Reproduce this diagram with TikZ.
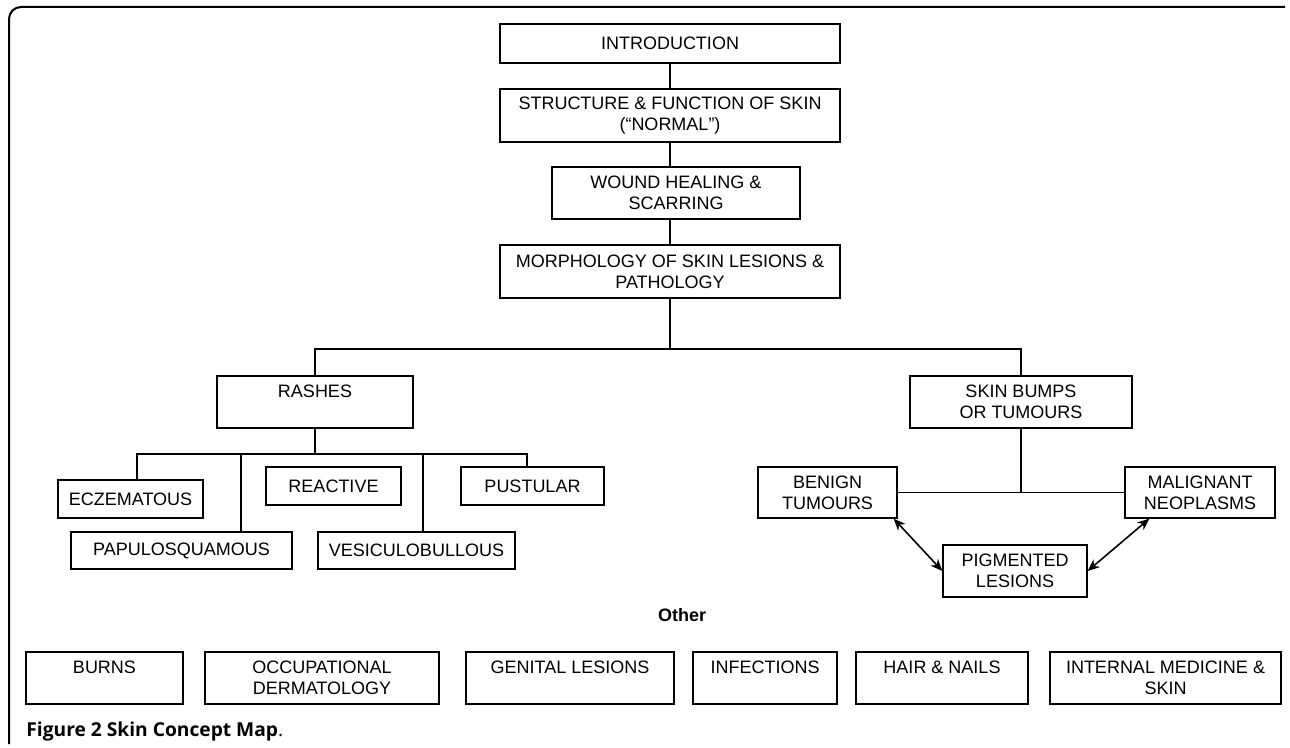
\documentclass[tikz,border=0pt]{standalone}
\usepackage{fontspec}
\setmainfont{Liberation Sans}
\newfontfamily\capfont{Open Sans}
\usetikzlibrary{arrows.meta}
\newcommand\boxfont{\fontsize{9}{10.5}\selectfont}
\tikzset{
  box/.style={draw, line width=0.65pt, inner sep=0pt, align=center, font=\boxfont},
  link/.style={draw, line width=0.65pt},
  both/.style={line width=0.8pt, {Stealth[length=6pt,width=5pt]}-{Stealth[length=6pt,width=5pt]}},
  frame/.style={draw, line width=1pt, rounded corners=6pt}
}
\begin{document}
\begin{tikzpicture}[x=0.5pt,y=-0.5pt]
  \useasboundingbox (0,0) rectangle (1290,748);
  \draw[frame] (9,744) -- (9,7) -- (1285,7);

  % main column
  \node[box, minimum width=170pt, minimum height=19.5pt] (intro) at (670,43.5) {INTRODUCTION};
  \node[box, minimum width=170pt, minimum height=26.5pt] (struct) at (670,115.5) {STRUCTURE \& FUNCTION OF SKIN\\(“NORMAL”)};
  \node[box, minimum width=124pt, minimum height=26pt] (wound) at (676,193) {WOUND HEALING \&\\SCARRING};
  \node[box, minimum width=170pt, minimum height=26.5pt] (morph) at (670,271.5) {MORPHOLOGY OF SKIN LESIONS \&\\PATHOLOGY};
  \draw[link] (intro) -- (struct);
  \draw[link] (struct.south) -- (struct.south |- wound.north);
  \draw[link] (morph.north |- wound.south) -- (morph.north);

  % two branches
  \coordinate (split) at (670,349);
  \node[box, minimum width=98pt, minimum height=26pt] (rashes) at (315,402) {RASHES\\~};
  \node[box, minimum width=111pt, minimum height=26pt] (bumps) at (1021,402) {SKIN BUMPS\\OR TUMOURS};
  \draw[link] (morph.south) -- (split);
  \draw[link] (rashes.north) |- (split) -| (bumps.north);

  % rashes
  \node[box, minimum width=72.5pt, minimum height=19pt] (ecz) at (130.5,499) {ECZEMATOUS};
  \node[box, minimum width=110.5pt, minimum height=18.5pt] (papulo) at (181.5,550.5) {PAPULOSQUAMOUS};
  \node[box, minimum width=67.5pt, minimum height=19pt] (reactive) at (333.5,486) {REACTIVE};
  \node[box, minimum width=98.5pt, minimum height=18.5pt] (vesic) at (416.5,550.5) {VESICULOBULLOUS};
  \node[box, minimum width=71.5pt, minimum height=19pt] (pust) at (532.5,486) {PUSTULAR};
  \coordinate (rl) at (137,454);
  \coordinate (rr) at (527,454);
  \coordinate (pd) at (241,454);
  \coordinate (vd) at (423,454);
  \draw[link] (rashes.south) -- (rashes.south |- rl);
  \draw[link] (rl |- ecz.north) -- (rl) -- (rr) -- (rr |- pust.north);
  \draw[link] (pd) -- (pd |- papulo.north);
  \draw[link] (vd) -- (vd |- vesic.north);

  % bumps
  \node[box, minimum width=69.5pt, minimum height=25.5pt] (benign) at (827.5,492.5) {BENIGN\\TUMOURS};
  \node[box, minimum width=75pt, minimum height=25.5pt] (malig) at (1200,492.5) {MALIGNANT\\NEOPLASMS};
  \node[box, minimum width=72pt, minimum height=26pt] (pig) at (1015,571) {PIGMENTED\\LESIONS};
  \draw[link] (bumps.south) -- (bumps.south |- benign.east);
  \draw[link] (benign.east) -- (malig.west);
  \draw[both] ([xshift=-2pt]benign.south east) -- (pig.west);
  \draw[both] (pig.east) -- ([xshift=12.5pt]malig.south west);

  % other topics
  \node[font=\boxfont\bfseries] (other) at (682,615) {Other};
  \node[box, minimum width=78.5pt, minimum height=26pt] (burns) at (104.5,678) {BURNS\\~};
  \node[box, minimum width=117pt, minimum height=26pt] (occ) at (322,678) {OCCUPATIONAL\\DERMATOLOGY};
  \node[box, minimum width=104pt, minimum height=26pt] (genital) at (570,678) {GENITAL LESIONS\\~};
  \node[box, minimum width=72pt, minimum height=26pt] (infect) at (765,678) {INFECTIONS\\~};
  \node[box, minimum width=86pt, minimum height=26pt] (hair) at (942,678) {HAIR \& NAILS\\~};
  \node[box, minimum width=115.5pt, minimum height=26pt] (internal) at (1165.5,678) {INTERNAL MEDICINE \&\\SKIN};

  \node[anchor=base west, inner sep=0pt, font=\capfont\fontsize{9.6}{11}\selectfont] (caption) at (26,736) {\bfseries Figure 2 Skin Concept Map\mdseries.};
\end{tikzpicture}
\end{document}
